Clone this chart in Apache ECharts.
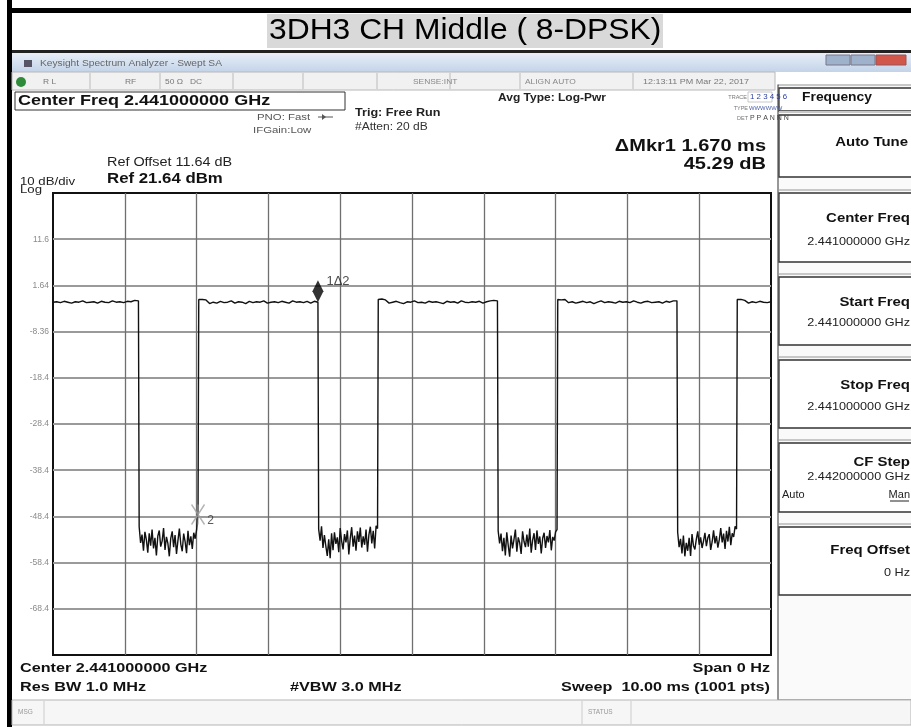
<!DOCTYPE html>
<html>
<head>
<meta charset="utf-8">
<script src="https://cdn.jsdelivr.net/npm/echarts@6/dist/echarts.min.js"></script>
<style>
  html, body { margin: 0; padding: 0; background: #fff; }
  #chart { position: absolute; left: 0; top: 0; width: 911px; height: 727px; }
</style>
</head>
<body>
<div id="chart"></div>
<script>
// ---------------- DATA ----------------
const REF_LEVEL_DBM = 21.64;          // top of the screen
const DB_PER_DIV = 10;
const SWEEP_MS = 10;

// y tick labels from bottom (-100 dB below ref) to top (ref)
const yTickLabels = ['', '-68.4', '-58.4', '-48.4', '-38.4', '-28.4', '-18.4', '-8.36', '1.64', '11.6', ''];

// burst (carrier on) intervals, ms
const burstStartMs = [0.00, 2.03, 4.53, 7.03, 9.53];
const burstEndMs   = [1.19, 3.69, 6.19, 8.69, 10.00];
// gap (carrier off) intervals, ms
const gapStartMs = [1.20, 3.70, 6.20, 8.70];
const gapEndMs   = [2.02, 4.52, 7.02, 9.52];

// levels in dBm
const burst1 = [-2.0, -1.9, -2.1, -1.8, -2.0, -2.2, -1.9, -2.0, -1.7, -2.1, -2.0, -1.9, -2.2, -1.8, -2.0, -2.1, -1.7, -2.0, -1.9, -2.1, -1.8, -1.9, -1.6, -1.7];
const burst2 = [-1.4, -1.4, -1.5, -2.3, -2.0, -2.2, -1.8, -2.1, -2.0, -1.7, -2.2, -1.9, -2.0, -2.3, -1.8, -2.1, -1.9, -2.0, -1.7, -2.2, -2.0, -1.9, -2.1, -1.8, -2.0, -2.2, -1.7, -2.0, -1.9, -2.1, -1.8, -2.2, -1.8, -2.0];
const burst3 = [-1.4, -1.3, -1.5, -2.2, -2.0, -1.8, -2.1, -2.3, -1.9, -2.0, -1.7, -2.1, -2.0, -2.2, -1.8, -2.0, -1.9, -2.1, -2.3, -1.8, -2.0, -1.9, -2.2, -1.7, -2.0, -2.1, -1.9, -2.0, -1.8, -2.2, -1.9, -1.7, -1.6, -1.7];
const burst4 = [-1.4, -1.5, -1.4, -2.1, -1.9, -2.2, -2.0, -1.8, -2.1, -1.9, -2.3, -2.0, -1.7, -2.1, -1.9, -2.0, -2.2, -1.8, -2.0, -1.9, -2.1, -1.7, -2.0, -2.2, -1.9, -1.8, -2.1, -2.0, -1.9, -2.2, -1.8, -2.0, -1.7, -1.7];
const burst5 = [-1.4, -1.4, -1.6, -2.2, -1.9, -2.1, -1.8, -2.0, -2.1, -1.9];

const gap1 = [-50.6, -54.1, -52.3, -55.8, -51.7, -53.4, -56.2, -52.0, -54.7, -51.2, -55.3, -53.0, -56.8, -52.6, -51.4, -54.9, -53.7, -50.9, -55.6, -52.8, -54.2, -57.0, -53.1, -51.6, -55.0, -52.4, -56.5, -53.6, -51.0, -54.4, -55.9, -52.1, -53.8, -56.3, -51.5, -54.6, -52.7, -55.4, -51.9, -53.2, -51.3, -47.3];
const gap2 = [-51.1, -53.6, -50.5, -55.2, -52.4, -54.8, -56.9, -53.3, -57.4, -52.0, -55.7, -51.8, -54.3, -52.9, -56.1, -50.9, -53.7, -55.5, -52.2, -54.0, -51.4, -56.6, -53.1, -50.7, -54.9, -52.5, -55.8, -51.6, -53.9, -50.8, -55.1, -52.7, -54.5, -51.2, -56.0, -52.3, -50.6, -54.2, -51.5, -55.3, -50.4, -51.0];
const gap3 = [-51.5, -54.2, -52.1, -55.9, -53.0, -56.8, -51.8, -54.6, -57.1, -52.5, -55.3, -53.4, -51.2, -56.0, -52.9, -54.1, -56.5, -51.6, -53.8, -55.0, -52.3, -54.9, -51.0, -56.2, -53.5, -52.0, -55.6, -51.4, -54.3, -52.7, -56.4, -53.1, -51.9, -55.2, -52.6, -54.0, -51.3, -55.7, -52.8, -53.6, -51.7, -51.2];
const gap4 = [-51.8, -55.0, -53.2, -56.4, -52.5, -57.0, -54.1, -55.8, -53.0, -56.9, -52.2, -54.7, -55.5, -53.3, -51.6, -54.5, -52.9, -55.2, -53.7, -51.9, -54.8, -53.0, -52.2, -55.6, -53.9, -51.4, -54.2, -52.6, -55.1, -53.4, -50.9, -54.0, -52.1, -55.4, -51.5, -53.8, -50.6, -54.6, -52.0, -52.8, -50.5, -51.1];

const bursts = [burst1, burst2, burst3, burst4, burst5];
const gaps = [gap1, gap2, gap3, gap4];

// ---------------- build trace ----------------
function spread(t0, t1, vals) {
  return vals.map((v, i) => [t0 + (t1 - t0) * i / (vals.length - 1), v - REF_LEVEL_DBM]);
}
let trace = [];
for (let k = 0; k < bursts.length; k++) {
  trace = trace.concat(spread(burstStartMs[k], burstEndMs[k], bursts[k]));
  if (k < gaps.length) trace = trace.concat(spread(gapStartMs[k], gapEndMs[k], gaps[k]));
}
// markers: 1 at end of burst 2, 2 (reference) at end of gap 1
const mkr1 = [burstEndMs[1], burst2[burst2.length - 1] - REF_LEVEL_DBM];
const mkr2 = [gapEndMs[0], gap1[gap1.length - 1] - REF_LEVEL_DBM];

// ---------------- decorations ----------------
const F = '"Liberation Sans", Arial, sans-serif';
function txt(x, y, s, size, o) {
  o = o || {};
  const al = o.align || 'left';
  return { type: 'text', x: x, y: y, z: 100, scaleX: (o.sx === undefined ? 1.2 : o.sx),
    style: { text: s, font: (o.bold ? 'bold ' : '') + size + 'px ' + F, fill: o.color || '#111',
      textAlign: al, align: al, textVerticalAlign: 'middle', verticalAlign: 'middle' } };
}
function rect(x, y, w, h, fill, stroke, lw, z) {
  return { type: 'rect', z: z === undefined ? 5 : z, shape: { x: x, y: y, width: w, height: h },
    style: { fill: fill || 'none', stroke: stroke || null, lineWidth: lw || 0 } };
}
function line(x1, y1, x2, y2, stroke, lw, z) {
  return { type: 'line', z: z === undefined ? 6 : z, shape: { x1: x1, y1: y1, x2: x2, y2: y2 },
    style: { stroke: stroke, lineWidth: lw } };
}

const g = [];
// outer black frame and title
g.push(rect(7, 0, 5, 727, '#000'));
g.push(rect(7, 8, 904, 5, '#000'));
g.push(rect(267, 14, 396, 34, '#d9d9d9'));
g.push(txt(269, 31, '3DH3 CH Middle ( 8-DPSK)', 30, { sx: 1.06, color: '#000' }));
// screenshot frame
g.push(rect(12, 50, 899, 3, '#222'));
g.push(rect(12, 53, 899, 19, { type: 'linear', x: 0, y: 0, x2: 0, y2: 1,
  colorStops: [{ offset: 0, color: '#e8eff8' }, { offset: 1, color: '#c3d3e8' }] }));
g.push(rect(24, 60, 8, 7, '#556'));
g.push(txt(40, 64, 'Keysight Spectrum Analyzer - Swept SA', 8.5, { color: '#666' }));
g.push(rect(826, 55, 24, 10, '#9fb2cc', '#778', 1));
g.push(rect(851, 55, 24, 10, '#9fb2cc', '#778', 1));
g.push(rect(876, 55, 30, 10, '#d0574a', '#955', 1));
// status row
g.push(rect(12, 72, 763, 18, '#f1f1f1', '#b8b8b8', 1));
[90, 160, 233, 303, 377, 450, 520, 633].forEach(x => g.push(line(x, 73, x, 89, '#bbb', 1)));
g.push({ type: 'circle', z: 8, shape: { cx: 21, cy: 82, r: 5 }, style: { fill: '#2e8b3a' } });
g.push(txt(43, 82, 'R L', 7, { color: '#777' }));
g.push(txt(125, 82, 'RF', 7, { color: '#777' }));
g.push(txt(165, 82, '50 Ω   DC', 7, { color: '#777' }));
g.push(txt(413, 82, 'SENSE:INT', 7, { color: '#888' }));
g.push(txt(525, 82, 'ALIGN AUTO', 7, { color: '#888' }));
g.push(txt(643, 82, '12:13:11 PM Mar 22, 2017', 7.5, { color: '#777' }));
// header area
g.push(rect(15, 92, 330, 18, '#fff', '#333', 1));
g.push(txt(18, 101, 'Center Freq 2.441000000 GHz', 15, { bold: true }));
g.push(txt(257, 117, 'PNO: Fast', 9.5, { color: '#555' }));
g.push(line(318, 117, 333, 117, '#555', 1));
g.push({ type: 'polygon', z: 8, shape: { points: [[322, 114], [326, 117], [322, 120]] }, style: { fill: '#555' } });
g.push(txt(253, 130, 'IFGain:Low', 9.5, { color: '#555' }));
g.push(txt(355, 113, 'Trig: Free Run', 10.5, { bold: true, color: '#222' }));
g.push(txt(355, 127, '#Atten: 20 dB', 10, { color: '#333' }));
g.push(txt(498, 98, 'Avg Type: Log-Pwr', 10, { bold: true, color: '#222' }));
g.push(txt(747, 97, 'TRACE', 5.5, { align: 'right', color: '#777', sx: 1 }));
g.push(txt(748, 108, 'TYPE', 5.5, { align: 'right', color: '#777', sx: 1 }));
g.push(txt(748, 118, 'DET', 5.5, { align: 'right', color: '#777', sx: 1 }));
g.push(rect(748, 92, 24, 10, '#fff', '#bbb', 0.8));
g.push(txt(750, 97, '1 2 3 4 5 6', 7.5, { color: '#2a3e9e', sx: 1.05 }));
g.push(txt(749, 108, 'WWWWWW', 6.2, { color: '#4a5ea8', sx: 0.95 }));
g.push(txt(750, 118, 'P P A N N N', 7, { color: '#444', sx: 1.0 }));
g.push(txt(107, 163, 'Ref Offset 11.64 dB', 12, { color: '#222' }));
g.push(txt(107, 179, 'Ref 21.64 dBm', 14, { bold: true }));
g.push(txt(20, 182, '10 dB/div', 11, { color: '#222' }));
g.push(txt(20, 190, 'Log', 11, { color: '#222' }));
g.push(txt(766, 147, '\u0394Mkr1 1.670 ms', 16, { bold: true, align: 'right', sx: 1.25 }));
g.push(txt(766, 165, '45.29 dB', 16, { bold: true, align: 'right', sx: 1.25 }));
// bottom annotations
g.push(txt(20, 668, 'Center 2.441000000 GHz', 13.5, { bold: true }));
g.push(txt(20, 687, 'Res BW 1.0 MHz', 13.5, { bold: true }));
g.push(txt(290, 687, '#VBW 3.0 MHz', 13.5, { bold: true }));
g.push(txt(770, 668, 'Span 0 Hz', 13.5, { bold: true, align: 'right' }));
g.push(txt(770, 687, 'Sweep  10.00 ms (1001 pts)', 13.5, { bold: true, align: 'right' }));
// message bar
g.push(rect(12, 700, 899, 25, '#f6f6f6', '#b5b5b5', 1));
g.push(line(44, 701, 44, 724, '#ccc', 1));
g.push(line(582, 701, 582, 724, '#ccc', 1));
g.push(line(631, 701, 631, 724, '#ccc', 1));
g.push(txt(18, 712, 'MSG', 6.5, { color: '#999', sx: 1 }));
g.push(txt(588, 712, 'STATUS', 6.5, { color: '#999', sx: 1 }));
// right soft-key panel
g.push(rect(778, 85, 140, 615, '#fafafa', '#555', 1.2, 4));
function softKey(y, h) {
  g.push(line(779, y - 3, 911, y - 3, '#c8c8c8', 2));
  g.push(rect(779, y, 140, h, '#fff', '#333', 1.3));
}
softKey(88, 23);
softKey(115, 62);
softKey(193, 69);
softKey(277, 68);
softKey(360, 68);
softKey(443, 69);
softKey(527, 68);
g.push(txt(837, 98, 'Frequency', 12, { bold: true, align: 'center', sx: 1.15 }));
g.push(txt(908, 142, 'Auto Tune', 13, { bold: true, align: 'right', sx: 1.15 }));
const keys = [
  [218, 'Center Freq', 242, '2.441000000 GHz'],
  [302, 'Start Freq', 323, '2.441000000 GHz'],
  [385, 'Stop Freq', 407, '2.441000000 GHz'],
  [462, 'CF Step', 477, '2.442000000 GHz'],
  [550, 'Freq Offset', 573, '0 Hz']
];
keys.forEach(k => {
  g.push(txt(910, k[0], k[1], 13, { bold: true, align: 'right', sx: 1.15 }));
  g.push(txt(910, k[2], k[3], 11, { align: 'right', color: '#222', sx: 1.15 }));
});
g.push(txt(782, 495, 'Auto', 10, { color: '#222', sx: 1.1 }));
g.push(txt(910, 495, 'Man', 10, { color: '#222', align: 'right', sx: 1.1 }));
g.push(line(890, 501, 909, 501, '#222', 1));

// ---------------- chart ----------------
const chart = echarts.init(document.getElementById('chart'), null, { renderer: 'canvas' });
chart.setOption({
  animation: false,
  backgroundColor: '#fff',
  graphic: { elements: g },
  grid: { left: 53, top: 193, width: 718, height: 462, show: true, borderColor: '#111', borderWidth: 2, backgroundColor: '#fff' },
  xAxis: {
    type: 'value', min: 0, max: SWEEP_MS, interval: 1,
    axisLine: { show: false }, axisTick: { show: false }, axisLabel: { show: false },
    splitLine: { show: true, showMinLine: false, showMaxLine: false, lineStyle: { color: '#6f6f6f', width: 1.3 } }
  },
  yAxis: {
    type: 'value', min: -10 * DB_PER_DIV, max: 0, interval: DB_PER_DIV,
    axisLine: { show: false }, axisTick: { show: false },
    axisLabel: { show: true, margin: 4, fontSize: 8.5, color: '#8a8a8a', fontFamily: F,
      formatter: v => yTickLabels[Math.round((v + 10 * DB_PER_DIV) / DB_PER_DIV)] || '' },
    splitLine: { show: true, showMinLine: false, showMaxLine: false, lineStyle: { color: '#9a9a9a', width: 2 } }
  },
  series: [
    {
      type: 'line', data: trace, showSymbol: false, symbol: 'none',
      lineStyle: { color: '#111', width: 1.4 }, z: 3
    },
    {
      type: 'scatter', z: 5,
      data: [
        { value: mkr1, symbol: 'diamond', symbolSize: [11, 22], symbolOffset: [0, -11],
          itemStyle: { color: '#000' },
          label: { show: true, formatter: '1\u03942', position: 'right', offset: [-2, -10], fontSize: 13, color: '#222', fontFamily: F } },
        { value: mkr2, symbol: 'path://M0,0 L12,18 M12,0 L0,18 M6,0 L6,18', symbolSize: [13, 20], symbolOffset: [0, 3],
          itemStyle: { color: 'rgba(0,0,0,0)', borderColor: '#a0a0a0', borderWidth: 1.5 },
          label: { show: true, formatter: '2', position: 'right', offset: [-3, 6], fontSize: 12, color: '#333', fontFamily: F } }
      ]
    }
  ]
});
</script>
</body>
</html>
